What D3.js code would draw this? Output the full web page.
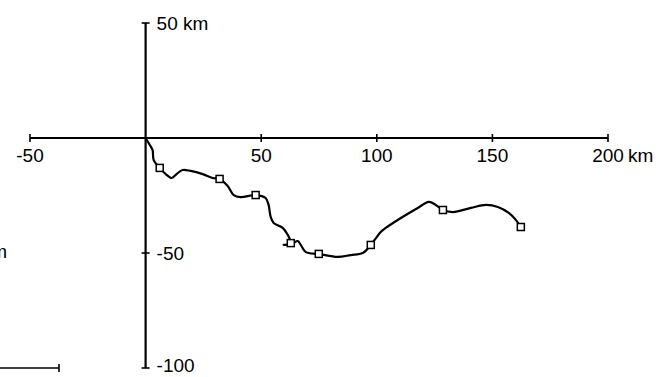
<!DOCTYPE html>
<html><head><meta charset="utf-8">
<script src="https://cdn.jsdelivr.net/npm/d3@7"></script>
<style>html,body{margin:0;padding:0;background:#fff;overflow:hidden}</style>
</head><body>
<svg id="c" width="661" height="377"></svg>
<script>
// Track (km east, km north)
const trackX = [0,1.3,3.0,3.5,6.1,8.7,11.3,13.4,16.0,19.5,24.7,29.0,32.0,35.5,38.1,41.1,47.6,51.9,53.2,54.1,55.4,59.3,61.5,62.8,59.7,63.5,65.8,67.1,69.3,74.9,83.1,88.7,93.9,97.4,101.7,103.9,110.4,117.7,122.5,125.5,128.6,132.9,140.7,147.2,152.4,157.1,160.2,162.3];
const trackY = [0,-2.2,-5.2,-9.6,-13.0,-15.7,-17.4,-15.7,-13.9,-14.3,-15.7,-17.4,-17.8,-20.9,-24.8,-25.7,-24.8,-26.1,-29.1,-34.3,-37.0,-39.1,-42.2,-45.7,-46.5,-45.9,-44.8,-46.5,-49.6,-50.4,-51.7,-50.9,-50.0,-46.5,-40.9,-39.1,-34.8,-30.4,-27.8,-29.1,-31.3,-32.2,-30.4,-29.1,-30.0,-32.6,-35.7,-38.7];
// Square markers
const markerX = [6.1,32.0,47.6,62.8,74.9,97.4,128.6,162.3];
const markerY = [-13.0,-17.8,-24.8,-45.7,-50.4,-46.5,-31.3,-38.7];
// Axis ticks and labels
const xTicks = [-50,50,100,150,200];
const xTickLabels = ["-50","50","100","150","200"];
const yTicks = [50,-50,-100];
const yTickLabels = ["50 km","-50","-100"];

const svg = d3.select("#c");
const x = d3.scaleLinear().domain([-50,200]).range([30,608]);
const y = d3.scaleLinear().domain([-100,50]).range([368,23]);
const font = "'Liberation Sans', Arial, Helvetica, sans-serif";
const fs = 19;

// x axis
svg.append("line").attr("x1",x(-50)).attr("x2",x(200)).attr("y1",y(0)).attr("y2",y(0))
  .attr("stroke","#000").attr("stroke-width",2);
svg.selectAll(".xt").data(xTicks).enter().append("line")
  .attr("x1",d=>x(d)).attr("x2",d=>x(d)).attr("y1",y(0)-4).attr("y2",y(0)+4)
  .attr("stroke","#000").attr("stroke-width",1.6);
svg.selectAll(".xl").data(xTicks).enter().append("text")
  .attr("x",d=>x(d)).attr("y",y(0)+24).attr("text-anchor","middle")
  .attr("font-family",font).attr("font-size",fs).attr("fill","#000")
  .text((d,i)=>xTickLabels[i]);
svg.append("text").attr("x",x(200)+20).attr("y",y(0)+24)
  .attr("font-family",font).attr("font-size",fs).attr("fill","#000").text("km");

// y axis
svg.append("line").attr("x1",x(0)).attr("x2",x(0)).attr("y1",y(50)).attr("y2",y(-100))
  .attr("stroke","#000").attr("stroke-width",2.2);
svg.selectAll(".yt").data(yTicks).enter().append("line")
  .attr("x1",x(0)-4).attr("x2",x(0)+4).attr("y1",d=>y(d)).attr("y2",d=>y(d))
  .attr("stroke","#000").attr("stroke-width",1.6);
svg.selectAll(".yl").data(yTicks).enter().append("text")
  .attr("x",x(0)+11).attr("y",d=>Math.min(y(d)+7, 372))
  .attr("font-family",font).attr("font-size",fs).attr("fill","#000")
  .text((d,i)=>yTickLabels[i]);

// remnants of a neighbouring panel (cropped at left edge)
svg.append("text").attr("x",7).attr("y",258).attr("text-anchor","end")
  .attr("font-family",font).attr("font-size",fs).attr("fill","#000").text("km");
svg.append("line").attr("x1",0).attr("x2",59).attr("y1",368).attr("y2",368)
  .attr("stroke","#000").attr("stroke-width",1.6);
svg.append("line").attr("x1",59).attr("x2",59).attr("y1",364).attr("y2",372)
  .attr("stroke","#000").attr("stroke-width",1.6);

// track
const pts = trackX.map((v,i)=>[v,trackY[i]]);
svg.append("path").datum(pts)
  .attr("d", d3.line().x(d=>x(d[0])).y(d=>y(d[1])).curve(d3.curveCatmullRom.alpha(0.5)))
  .attr("fill","none").attr("stroke","#000").attr("stroke-width",2.2).attr("stroke-linejoin","round");

// markers
svg.selectAll(".m").data(markerX).enter().append("rect")
  .attr("x",d=>x(d)-3.5).attr("y",(d,i)=>y(markerY[i])-3.5)
  .attr("width",7).attr("height",7)
  .attr("fill","#fff").attr("stroke","#000").attr("stroke-width",1.5);
</script>
</body></html>
